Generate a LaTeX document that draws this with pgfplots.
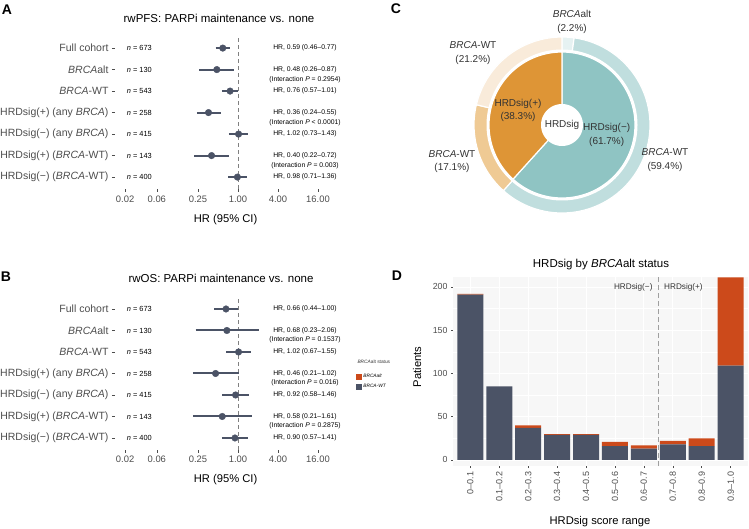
\documentclass[border=0pt]{standalone}
\usepackage{pgfplots}
\pgfplotsset{compat=1.18}
\usepackage{fontspec}
\setmainfont{Liberation Sans}
\definecolor{dk}{HTML}{4B5366}
\definecolor{rd}{HTML}{CC4A1B}
\definecolor{tlab}{HTML}{4D4D4D}
\definecolor{txt}{HTML}{333333}
\definecolor{tealM}{HTML}{8FC4C3}
\definecolor{orM}{HTML}{DE9536}
\definecolor{tealL}{HTML}{C0DEDE}
\definecolor{tealVL}{HTML}{E6F2F2}
\definecolor{orL}{HTML}{EFCA94}
\definecolor{orVL}{HTML}{F9EBDA}
\definecolor{panelbg}{HTML}{F7F7F7}
\newcommand{\fs}[2]{\fontsize{#1}{#2}\selectfont}
\tikzset{
  cistyle/.style={dk, line width=2pt},
  nlab/.style={anchor=west, font=\fs{7.4}{8}, text=black},
  hrlab/.style={font=\fs{6.8}{8}, text=black},
}
\begin{document}
\begin{tikzpicture}
\path[use as bounding box] (0pt,-528pt) rectangle (749pt,0pt);

% ---------------- Panel A ----------------
\node[font=\bfseries\fs{14}{16}] at (7pt,-10pt) {A};
\node[font=\fs{11.5}{13}, text=black] at (219pt,-18pt) {rwPFS: PARPi maintenance vs. none};
\begin{axis}[at={(115pt,-188.9pt)}, anchor=south west,
    scale only axis, width=221pt, height=152.65pt,
    xmode=log, log basis x=2, xmin=0.01409, xmax=29.86,
    ymin=0.45, ymax=7.55,
    xtick={0.02,0.06,0.25,1,4,16},
    xticklabels={0.02,0.06,0.25,1.00,4.00,16.00},
    ytick={1,2,3,4,5,6,7},
    yticklabels={{HRDsig(−) (\textit{BRCA}-WT)},{HRDsig(+) (\textit{BRCA}-WT)},{HRDsig(−) (any \textit{BRCA})},{HRDsig(+) (any \textit{BRCA})},{\textit{BRCA}-WT},{\textit{BRCA}alt},{Full cohort}},
    axis line style={draw=none},
    tick pos=left, tick align=outside, major tick length=3pt,
    tick style={tlab, line width=0.5pt},
    xticklabel style={font=\fs{9.4}{11}, text=tlab},
    yticklabel style={font=\fs{10.5}{12}, text=tlab},
    clip=false]
\addplot[gray, line width=0.7pt, dash pattern=on 4pt off 3pt] coordinates {(1,0.45) (1,7.55)};
\addplot[cistyle] coordinates {(0.46,7) (0.77,7)};
\addplot[cistyle] coordinates {(0.26,6) (0.87,6)};
\addplot[cistyle] coordinates {(0.57,5) (1.01,5)};
\addplot[cistyle] coordinates {(0.24,4) (0.55,4)};
\addplot[cistyle] coordinates {(0.73,3) (1.43,3)};
\addplot[cistyle] coordinates {(0.22,2) (0.72,2)};
\addplot[cistyle] coordinates {(0.71,1) (1.36,1)};
\addplot[only marks, mark=*, mark size=3.3pt, dk] coordinates {(0.59,7) (0.48,6) (0.76,5) (0.36,4) (1.02,3) (0.40,2) (0.98,1)};
\node[nlab] at (axis cs:0.0188,7) {\textit{n} = 673};
\node[nlab] at (axis cs:0.0188,6) {\textit{n} = 130};
\node[nlab] at (axis cs:0.0188,5) {\textit{n} = 543};
\node[nlab] at (axis cs:0.0188,4) {\textit{n} = 258};
\node[nlab] at (axis cs:0.0188,3) {\textit{n} = 415};
\node[nlab] at (axis cs:0.0188,2) {\textit{n} = 143};
\node[nlab] at (axis cs:0.0188,1) {\textit{n} = 400};
\node[hrlab] at (axis cs:10.2,7) {HR, 0.59 (0.46\textendash0.77)};
\node[hrlab] at (axis cs:10.2,6) {HR, 0.48 (0.26\textendash0.87)};
\node[hrlab] at (axis cs:10.2,5.55) {(Interaction \textit{P} = 0.2954)};
\node[hrlab] at (axis cs:10.2,5) {HR, 0.76 (0.57\textendash1.01)};
\node[hrlab] at (axis cs:10.2,4) {HR, 0.36 (0.24\textendash0.55)};
\node[hrlab] at (axis cs:10.2,3.55) {(Interaction \textit{P} < 0.0001)};
\node[hrlab] at (axis cs:10.2,3) {HR, 1.02 (0.73\textendash1.43)};
\node[hrlab] at (axis cs:10.2,2) {HR, 0.40 (0.22\textendash0.72)};
\node[hrlab] at (axis cs:10.2,1.55) {(Interaction \textit{P} = 0.003)};
\node[hrlab] at (axis cs:10.2,1) {HR, 0.98 (0.71\textendash1.36)};
\end{axis}
\node[font=\fs{11.2}{13}, text=black] at (225.6pt,-220pt) {HR (95\% CI)};

% ---------------- Panel B ----------------
\node[font=\bfseries\fs{14}{16}] at (6pt,-277pt) {B};
\node[font=\fs{11.5}{13}, text=black] at (221pt,-278pt) {rwOS: PARPi maintenance vs. none};
\begin{axis}[at={(115pt,-449.8pt)}, anchor=south west,
    scale only axis, width=221pt, height=152.65pt,
    xmode=log, log basis x=2, xmin=0.01409, xmax=29.86,
    ymin=0.45, ymax=7.55,
    xtick={0.02,0.06,0.25,1,4,16},
    xticklabels={0.02,0.06,0.25,1.00,4.00,16.00},
    ytick={1,2,3,4,5,6,7},
    yticklabels={{HRDsig(−) (\textit{BRCA}-WT)},{HRDsig(+) (\textit{BRCA}-WT)},{HRDsig(−) (any \textit{BRCA})},{HRDsig(+) (any \textit{BRCA})},{\textit{BRCA}-WT},{\textit{BRCA}alt},{Full cohort}},
    axis line style={draw=none},
    tick pos=left, tick align=outside, major tick length=3pt,
    tick style={tlab, line width=0.5pt},
    xticklabel style={font=\fs{9.4}{11}, text=tlab},
    yticklabel style={font=\fs{10.5}{12}, text=tlab},
    clip=false]
\addplot[gray, line width=0.7pt, dash pattern=on 4pt off 3pt] coordinates {(1,0.45) (1,7.55)};
\addplot[cistyle] coordinates {(0.44,7) (1.00,7)};
\addplot[cistyle] coordinates {(0.23,6) (2.06,6)};
\addplot[cistyle] coordinates {(0.67,5) (1.55,5)};
\addplot[cistyle] coordinates {(0.21,4) (1.02,4)};
\addplot[cistyle] coordinates {(0.58,3) (1.46,3)};
\addplot[cistyle] coordinates {(0.21,2) (1.61,2)};
\addplot[cistyle] coordinates {(0.57,1) (1.41,1)};
\addplot[only marks, mark=*, mark size=3.3pt, dk] coordinates {(0.66,7) (0.68,6) (1.02,5) (0.46,4) (0.92,3) (0.58,2) (0.90,1)};
\node[nlab] at (axis cs:0.0188,7) {\textit{n} = 673};
\node[nlab] at (axis cs:0.0188,6) {\textit{n} = 130};
\node[nlab] at (axis cs:0.0188,5) {\textit{n} = 543};
\node[nlab] at (axis cs:0.0188,4) {\textit{n} = 258};
\node[nlab] at (axis cs:0.0188,3) {\textit{n} = 415};
\node[nlab] at (axis cs:0.0188,2) {\textit{n} = 143};
\node[nlab] at (axis cs:0.0188,1) {\textit{n} = 400};
\node[hrlab] at (axis cs:10.2,7) {HR, 0.66 (0.44\textendash1.00)};
\node[hrlab] at (axis cs:10.2,6) {HR, 0.68 (0.23\textendash2.06)};
\node[hrlab] at (axis cs:10.2,5.55) {(Interaction \textit{P} = 0.1537)};
\node[hrlab] at (axis cs:10.2,5) {HR, 1.02 (0.67\textendash1.55)};
\node[hrlab] at (axis cs:10.2,4) {HR, 0.46 (0.21\textendash1.02)};
\node[hrlab] at (axis cs:10.2,3.55) {(Interaction \textit{P} = 0.016)};
\node[hrlab] at (axis cs:10.2,3) {HR, 0.92 (0.58\textendash1.46)};
\node[hrlab] at (axis cs:10.2,2) {HR, 0.58 (0.21\textendash1.61)};
\node[hrlab] at (axis cs:10.2,1.55) {(Interaction \textit{P} = 0.2875)};
\node[hrlab] at (axis cs:10.2,1) {HR, 0.90 (0.57\textendash1.41)};
\end{axis}
\node[font=\fs{11.2}{13}, text=black] at (225.6pt,-480pt) {HR (95\% CI)};

% ---------------- Panel C ----------------
\node[font=\bfseries\fs{14}{16}] at (396pt,-9pt) {C};
\begin{axis}[at={(562pt,-125pt)}, anchor=center, scale only axis, width=200pt, height=200pt,
  xmin=-100, xmax=100, ymin=-100, ymax=100, hide axis, clip=false]
% outer ring (percent of all patients, clockwise from top): 2.2, 59.4, 17.1, 21.2
\addplot[fill=tealVL, draw=white, line width=1.2pt, line join=round, domain=82.08:90, samples=10] ({88*cos(x)},{88*sin(x)}) -- (axis cs:0,0) -- cycle;
\addplot[fill=tealL, draw=white, line width=1.2pt, line join=round, domain=-131.76:82.08, samples=90] ({88*cos(x)},{88*sin(x)}) -- (axis cs:0,0) -- cycle;
\addplot[fill=orL, draw=white, line width=1.2pt, line join=round, domain=-193.32:-131.76, samples=30] ({88*cos(x)},{88*sin(x)}) -- (axis cs:0,0) -- cycle;
\addplot[fill=orVL, draw=white, line width=1.2pt, line join=round, domain=-270:-193.32, samples=35] ({88*cos(x)},{88*sin(x)}) -- (axis cs:0,0) -- cycle;
\addplot[fill=white, draw=none, domain=0:360, samples=120] ({75.5*cos(x)},{75.5*sin(x)}) -- cycle;
% inner pie: 61.7 / 38.3
\addplot[fill=tealM, draw=white, line width=1.2pt, line join=round, domain=-132.12:90, samples=90] ({73*cos(x)},{73*sin(x)}) -- (axis cs:0,0) -- cycle;
\addplot[fill=orM, draw=white, line width=1.2pt, line join=round, domain=-270:-132.12, samples=60] ({73*cos(x)},{73*sin(x)}) -- (axis cs:0,0) -- cycle;
\addplot[fill=white, draw=none, domain=0:360, samples=60] ({21*cos(x)},{21*sin(x)}) -- cycle;
\node[font=\fs{10}{13.5}, text=txt, align=center] at (axis cs:10,103) {\textit{BRCA}alt\\(2.2\%)};
\node[font=\fs{10}{13.5}, text=txt, align=center] at (axis cs:-89,72) {\textit{BRCA}-WT\\(21.2\%)};
\node[font=\fs{10}{13.5}, text=txt, align=center] at (axis cs:-110,-36.5) {\textit{BRCA}-WT\\(17.1\%)};
\node[font=\fs{10}{13.5}, text=txt, align=center] at (axis cs:103,-35) {\textit{BRCA}-WT\\(59.4\%)};
\node[font=\fs{10}{13.5}, text=txt, align=center] at (axis cs:-44,14.5) {HRDsig(+)\\(38.3\%)};
\node[font=\fs{10}{13.5}, text=txt, align=center] at (axis cs:0,0) {HRDsig};
\node[font=\fs{10}{13.5}, text=txt, align=center] at (axis cs:44.7,-10) {HRDsig(−)\\(61.7\%)};
\end{axis}

% ---------------- Panel D ----------------
\node[font=\bfseries\fs{14}{16}] at (397pt,-276pt) {D};
\node[font=\fs{11.5}{13}, text=black] at (601pt,-265pt) {HRDsig by \textit{BRCA}alt status};
\begin{axis}[at={(453pt,-466pt)}, anchor=south west, scale only axis, width=295pt, height=189pt,
  xmin=-0.6, xmax=9.6, ymin=-7, ymax=211.5,
  ybar stacked, bar width=26pt,
  axis background/.style={fill=panelbg},
  axis line style={draw=none},
  xtick={0,1,2,3,4,5,6,7,8,9},
  xticklabels={0\textendash0.1,0.1\textendash0.2,0.2\textendash0.3,0.3\textendash0.4,0.4\textendash0.5,0.5\textendash0.6,0.6\textendash0.7,0.7\textendash0.8,0.8\textendash0.9,0.9\textendash1.0},
  ytick={0,50,100,150,200}, yticklabels={0,50,100,150,200},
  minor ytick={25,75,125,175},
  xmajorgrids, ymajorgrids, yminorgrids,
  major grid style={white, line width=0.9pt}, minor grid style={white, line width=0.45pt},
  tick pos=left, tick align=outside, major tick length=2pt, minor tick length=0pt,
  tick style={tlab, line width=0.5pt},
  xticklabel style={rotate=90, anchor=east, font=\fs{9}{10}, text=tlab},
  yticklabel style={font=\fs{8.8}{10}, text=tlab},
  /pgf/number format/assume math mode=true,
  clip=false]
\addplot[fill=dk, draw=none] coordinates {(0,191) (1,85) (2,37) (3,29) (4,29) (5,16) (6,13) (7,18) (8,16) (9,109)};
\addplot[fill=rd, draw=none] coordinates {(0,1) (1,0) (2,3) (3,1) (4,1) (5,5) (6,4) (7,4) (8,9) (9,102)};
\end{axis}
\begin{axis}[at={(453pt,-466pt)}, anchor=south west, scale only axis, width=295pt, height=189pt,
  xmin=-0.6, xmax=9.6, ymin=-7, ymax=211.5, hide axis, clip=false,
  legend image code/.code={\fill[#1] (0pt,-2.4pt) rectangle (4.8pt,2.4pt);},
  legend style={at={(axis description cs:-0.329,0.497)}, anchor=north west, draw=none, fill=none,
    font=\fs{4.8}{5}, row sep=1.2pt, inner sep=0pt, cells={anchor=west}},
  ]
\addplot[forget plot, gray!75, line width=0.8pt, dash pattern=on 5pt off 3pt] coordinates {(6.5,-7) (6.5,211.5)};
\addlegendimage{rd}
\addlegendentry{\textit{BRCAalt}}
\addlegendimage{dk}
\addlegendentry{\textit{BRCA-WT}}
\node[anchor=east, font=\fs{8.2}{9}, text=txt] at (axis cs:6.42,200) {HRDsig(−)};
\node[anchor=west, font=\fs{8.2}{9}, text=txt] at (axis cs:6.58,200) {HRDsig(+)};
\end{axis}
\node[anchor=west, font=\fs{4.8}{5}, text=txt] at (354pt,-362pt) {\textit{BRCA}alt status};
\node[font=\fs{11.2}{13}, text=black] at (600pt,-522pt) {HRDsig score range};
\node[font=\fs{11.2}{13}, text=black, rotate=90] at (417pt,-367pt) {Patients};
\end{tikzpicture}
\end{document}
